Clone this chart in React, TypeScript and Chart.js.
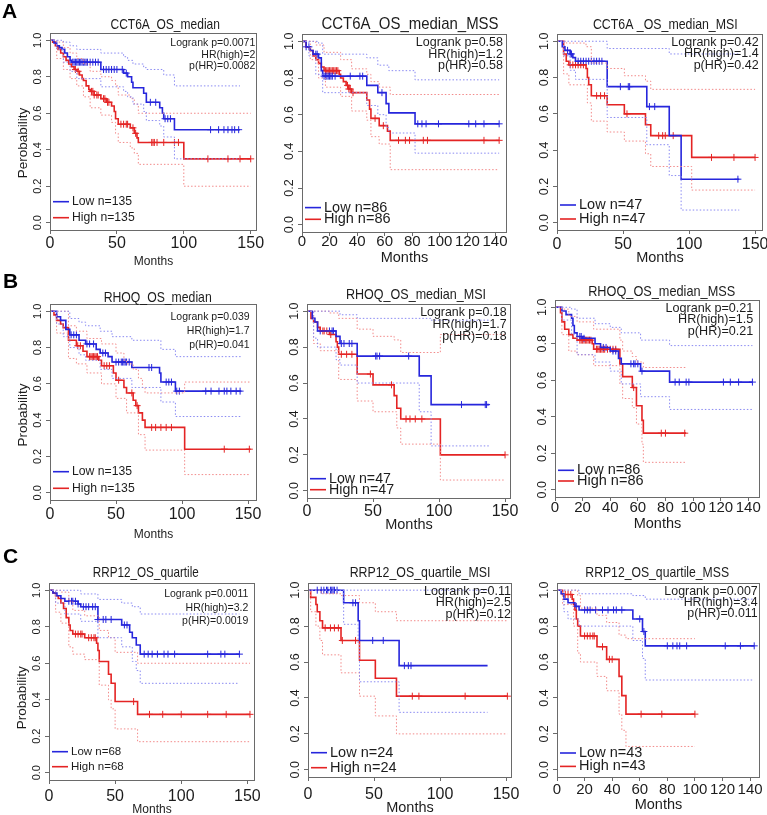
import React, { useEffect, useRef } from 'react';
import { Chart, registerables } from 'chart.js';
Chart.register(...registerables);

type P = [number, number][];

// ---------- shared ticks ----------
const X_TICKS_150 = [0, 50, 100, 150];
const X_TICKS_140 = [0, 20, 40, 60, 80, 100, 120, 140];
const Y_TICKS = [0, 0.2, 0.4, 0.6, 0.8, 1.0];

// ---------- A1: CCT6A_OS_median ----------
const A1_STATS = ['Logrank p=0.0071', 'HR(high)=2', 'p(HR)=0.0082'];
const A1_N = [135, 135];
const A1_LOW: P = [[0,1],[3,0.985],[5,0.97],[7,0.96],[9,0.95],[11,0.93],[13,0.91],[15,0.89],[16,0.88],[38,0.84],[55,0.82],[58,0.80],[61,0.77],[62,0.74],[70,0.71],[72,0.66],[82,0.63],[84,0.60],[85,0.57],[93,0.51],[142,0.51]];
const A1_LOW_CENS = [17,18,19,20,21,22,23,24,25,26,27,28,30,32,34,36,40,42,44,46,48,50,54,57,75,79,86,88,90,120,126,130,133,136,138,141];
const A1_HIGH: P = [[0,1],[2,0.99],[4,0.97],[6,0.95],[8,0.93],[10,0.91],[12,0.89],[14,0.87],[16,0.855],[18,0.84],[20,0.83],[22,0.81],[24,0.79],[25,0.78],[27,0.75],[29,0.73],[30,0.72],[33,0.70],[38,0.68],[42,0.66],[46,0.64],[48,0.61],[49,0.57],[51,0.54],[60,0.52],[63,0.49],[65,0.465],[66,0.44],[100,0.35],[150,0.35]];
const A1_HIGH_CENS = [19,21,31,32,33,35,36,40,41,43,44,53,55,57,58,62,64,76,77,78,80,85,93,96,118,133,142,150];
const A1_LOW_UP: P = [[0,1],[10,0.99],[15,0.97],[20,0.95],[38,0.93],[55,0.91],[58,0.89],[62,0.87],[70,0.85],[72,0.84],[85,0.81],[93,0.75],[142,0.75]];
const A1_LOW_LO: P = [[0,1],[5,0.95],[10,0.88],[15,0.83],[20,0.79],[38,0.745],[55,0.72],[58,0.69],[62,0.65],[70,0.61],[72,0.56],[82,0.53],[85,0.47],[93,0.35],[142,0.35]];
const A1_HIGH_UP: P = [[0,1],[5,0.99],[10,0.96],[15,0.93],[20,0.90],[25,0.87],[30,0.83],[38,0.80],[46,0.78],[49,0.75],[51,0.70],[60,0.68],[63,0.65],[66,0.60],[150,0.60]];
const A1_HIGH_LO: P = [[0,1],[5,0.90],[10,0.84],[15,0.79],[20,0.75],[25,0.69],[30,0.63],[38,0.59],[46,0.55],[49,0.49],[51,0.44],[60,0.41],[63,0.38],[66,0.32],[100,0.20],[150,0.20]];

// ---------- A2: CCT6A_OS_median_MSS ----------
const A2_STATS = ['Logrank p=0.58', 'HR(high)=1.2', 'p(HR)=0.58'];
const A2_N = [86, 86];
const A2_LOW: P = [[0,1],[3,0.97],[6,0.95],[8,0.93],[12,0.91],[14,0.84],[15,0.81],[47,0.76],[55,0.72],[61,0.66],[63,0.61],[82,0.55],[143,0.55]];
const A2_LOW_CENS = [3,5,10,11,16,17,18,19,20,21,22,24,35,42,44,58,84,87,90,99,121,126,132,143];
const A2_HIGH: P = [[0,1],[3,0.97],[6,0.95],[8,0.92],[10,0.90],[12,0.88],[14,0.86],[16,0.84],[27,0.82],[28,0.80],[30,0.78],[32,0.76],[34,0.74],[36,0.72],[47,0.68],[49,0.63],[50,0.58],[56,0.54],[62,0.51],[64,0.46],[143,0.46]];
const A2_HIGH_CENS = [17,18,19,20,21,22,23,24,25,26,33,34,35,37,53,59,70,75,78,88,91,132,143];
const A2_LOW_UP: P = [[0,1],[12,0.99],[15,0.93],[47,0.91],[55,0.87],[63,0.84],[82,0.79],[143,0.79]];
const A2_LOW_LO: P = [[0,1],[5,0.92],[10,0.82],[15,0.72],[47,0.65],[55,0.60],[61,0.53],[63,0.50],[82,0.39],[143,0.39]];
const A2_HIGH_UP: P = [[0,1],[10,0.98],[16,0.94],[28,0.90],[36,0.85],[47,0.82],[50,0.78],[56,0.75],[64,0.71],[143,0.71]];
const A2_HIGH_LO: P = [[0,1],[6,0.90],[12,0.80],[17,0.75],[28,0.70],[36,0.62],[47,0.57],[50,0.48],[56,0.44],[64,0.30],[143,0.30]];

// ---------- A3: CCT6A _OS_median_MSI ----------
const A3_STATS = ['Logrank p=0.42', 'HR(high)=1.4', 'p(HR)=0.42'];
const A3_N = [47, 47];
const A3_LOW: P = [[0,1],[4,0.97],[6,0.95],[10,0.93],[12,0.91],[14,0.89],[38,0.75],[68,0.64],[85,0.48],[94,0.24],[138,0.24]];
const A3_LOW_CENS = [8,10,11,16,18,20,22,24,26,28,30,32,34,48,54,55,70,74,137];
const A3_HIGH: P = [[0,1],[5,0.93],[7,0.89],[9,0.87],[22,0.85],[23,0.80],[24,0.76],[26,0.70],[38,0.65],[51,0.60],[67,0.54],[71,0.48],[102,0.36],[150,0.36]];
const A3_HIGH_CENS = [10,12,14,16,18,20,30,33,36,53,77,80,82,88,117,134,150];
const A3_LOW_UP: P = [[0,1],[38,0.96],[85,0.93],[138,0.93]];
const A3_LOW_LO: P = [[0,1],[5,0.92],[10,0.84],[14,0.79],[38,0.58],[68,0.43],[85,0.26],[94,0.07],[138,0.07]];
const A3_HIGH_UP: P = [[0,1],[7,0.99],[22,0.97],[26,0.88],[38,0.85],[51,0.81],[67,0.78],[71,0.735],[150,0.735]];
const A3_HIGH_LO: P = [[0,1],[5,0.82],[9,0.76],[23,0.66],[26,0.56],[38,0.50],[51,0.45],[67,0.38],[71,0.31],[102,0.18],[150,0.18]];

// ---------- B1: RHOQ_OS_median ----------
const B1_STATS = ['Logrank p=0.039', 'HR(high)=1.7', 'p(HR)=0.041'];
const B1_N = [135, 135];
const B1_LOW: P = [[0,1],[5,0.97],[8,0.95],[12,0.90],[15,0.87],[22,0.84],[27,0.82],[35,0.79],[38,0.77],[44,0.75],[47,0.72],[62,0.69],[83,0.66],[84,0.61],[95,0.56],[145,0.56]];
const B1_LOW_CENS = [16,18,20,28,30,33,40,42,50,52,54,55,56,57,58,60,75,77,88,90,92,96,98,118,122,128,132,134,137,141,144];
const B1_HIGH: P = [[0,1],[3,0.98],[5,0.95],[8,0.93],[10,0.91],[14,0.84],[20,0.81],[25,0.78],[28,0.75],[37,0.73],[39,0.70],[48,0.66],[50,0.62],[56,0.58],[58,0.55],[63,0.51],[65,0.48],[67,0.44],[70,0.40],[72,0.36],[102,0.24],[152,0.24]];
const B1_HIGH_CENS = [21,23,30,31,32,33,34,35,36,41,43,45,52,62,66,77,80,84,88,92,132,151];
const B1_LOW_UP: P = [[0,1],[10,1.0],[15,0.96],[22,0.94],[27,0.92],[38,0.89],[47,0.86],[62,0.84],[84,0.79],[95,0.75],[145,0.75]];
const B1_LOW_LO: P = [[0,1],[5,0.93],[10,0.86],[15,0.80],[22,0.76],[27,0.73],[38,0.68],[47,0.63],[62,0.58],[84,0.50],[95,0.42],[145,0.42]];
const B1_HIGH_UP: P = [[0,1],[5,1.0],[14,0.92],[20,0.89],[28,0.85],[39,0.82],[50,0.77],[56,0.73],[58,0.71],[63,0.68],[67,0.63],[70,0.58],[72,0.55],[102,0.61],[152,0.61]];
const B1_HIGH_LO: P = [[0,1],[5,0.88],[14,0.74],[20,0.71],[28,0.66],[39,0.60],[50,0.52],[58,0.44],[67,0.32],[72,0.235],[102,0.10],[152,0.10]];

// ---------- B2: RHOQ_OS_median_MSI ----------
const B2_STATS = ['Logrank p=0.18', 'HR(high)=1.7', 'p(HR)=0.18'];
const B2_N = [47, 47];
const B2_LOW: P = [[0,1],[4,0.96],[6,0.94],[8,0.89],[22,0.86],[25,0.82],[38,0.75],[85,0.64],[94,0.48],[138,0.48]];
const B2_LOW_CENS = [10,17,19,20,26,28,32,34,52,53,55,77,117,135,136];
const B2_HIGH: P = [[0,1],[3,0.96],[5,0.94],[8,0.91],[10,0.89],[17,0.87],[22,0.83],[23,0.80],[24,0.76],[38,0.65],[50,0.59],[66,0.53],[68,0.46],[71,0.40],[101,0.20],[150,0.20]];
const B2_HIGH_CENS = [12,13,15,18,26,30,34,48,64,75,78,82,87,150];
const B2_LOW_UP: P = [[0,1],[25,0.98],[38,0.96],[94,0.95],[138,0.95]];
const B2_LOW_LO: P = [[0,1],[5,0.85],[8,0.80],[22,0.73],[25,0.70],[38,0.60],[85,0.44],[94,0.25],[138,0.25]];
const B2_HIGH_UP: P = [[0,1],[8,1.0],[17,0.99],[24,0.96],[38,0.90],[50,0.86],[66,0.84],[71,0.77],[101,0.87],[150,0.87]];
const B2_HIGH_LO: P = [[0,1],[5,0.82],[10,0.78],[24,0.62],[38,0.50],[50,0.44],[68,0.35],[71,0.26],[101,0.06],[150,0.06]];

// ---------- B3: RHOQ_OS_median_MSS ----------
const B3_STATS = ['Logrank p=0.21', 'HR(high)=1.5', 'p(HR)=0.21'];
const B3_N = [86, 86];
const B3_LOW: P = [[0,1],[5,0.98],[8,0.96],[12,0.94],[13,0.90],[14,0.86],[16,0.84],[20,0.83],[29,0.80],[33,0.78],[40,0.76],[46,0.72],[48,0.69],[62,0.65],[83,0.59],[143,0.59]];
const B3_LOW_CENS = [18,19,21,35,37,42,44,55,57,58,60,63,87,90,95,97,122,127,133,143];
const B3_HIGH: P = [[0,1],[4,0.97],[5,0.92],[7,0.88],[10,0.85],[13,0.83],[16,0.82],[27,0.80],[28,0.77],[47,0.69],[49,0.62],[56,0.56],[59,0.46],[63,0.38],[64,0.31],[95,0.31]];
const B3_HIGH_CENS = [18,19,20,21,22,23,24,25,26,30,31,32,33,34,35,36,38,40,42,44,57,77,80,94];
const B3_LOW_UP: P = [[0,1],[12,0.99],[16,0.94],[29,0.91],[40,0.89],[48,0.86],[62,0.82],[83,0.79],[143,0.79]];
const B3_LOW_LO: P = [[0,1],[5,0.93],[12,0.85],[16,0.74],[29,0.70],[40,0.65],[48,0.58],[62,0.51],[83,0.44],[143,0.44]];
const B3_HIGH_UP: P = [[0,1],[5,0.99],[10,0.95],[16,0.92],[28,0.88],[47,0.82],[49,0.76],[56,0.73],[59,0.70],[64,0.67],[95,0.67]];
const B3_HIGH_LO: P = [[0,1],[5,0.85],[10,0.76],[16,0.74],[28,0.68],[47,0.58],[49,0.50],[56,0.45],[59,0.36],[63,0.25],[64,0.15],[95,0.15]];

// ---------- C1: RRP12_OS_quartile ----------
const C1_STATS = ['Logrank p=0.0011', 'HR(high)=3.2', 'p(HR)=0.0019'];
const C1_N = [68, 68];
const C1_LOW: P = [[0,1],[3,0.985],[6,0.97],[9,0.955],[12,0.94],[22,0.925],[24,0.91],[37,0.84],[55,0.81],[61,0.77],[63,0.74],[66,0.70],[69,0.65],[144,0.65]];
const C1_LOW_CENS = [15,17,18,20,22,26,28,30,33,35,37,41,43,47,57,59,72,75,78,82,87,90,95,120,130,133,144];
const C1_HIGH: P = [[0,1],[3,0.985],[5,0.97],[7,0.955],[9,0.93],[11,0.90],[13,0.85],[15,0.81],[16,0.78],[18,0.76],[27,0.74],[36,0.71],[37,0.67],[38,0.61],[45,0.54],[47,0.49],[50,0.39],[67,0.32],[152,0.32]];
const C1_HIGH_CENS = [20,22,24,25,30,32,34,35,64,76,86,100,120,134,152];
const C1_LOW_UP: P = [[0,1],[12,1.0],[24,0.98],[37,0.95],[55,0.93],[63,0.91],[69,0.87],[144,0.87]];
const C1_LOW_LO: P = [[0,1],[5,0.93],[12,0.87],[24,0.83],[37,0.74],[55,0.69],[63,0.61],[66,0.56],[69,0.49],[144,0.49]];
const C1_HIGH_UP: P = [[0,1],[9,0.99],[15,0.94],[18,0.89],[27,0.86],[38,0.78],[45,0.74],[50,0.66],[67,0.60],[152,0.60]];
const C1_HIGH_LO: P = [[0,1],[5,0.88],[9,0.82],[15,0.69],[18,0.65],[27,0.62],[38,0.48],[45,0.40],[47,0.35],[50,0.24],[67,0.17],[152,0.17]];

// ---------- C2: RRP12_OS_quartile_MSI ----------
const C2_STATS = ['Logrank p=0.11', 'HR(high)=2.5', 'p(HR)=0.12'];
const C2_N = [24, 24];
const C2_LOW: P = [[0,1],[27,0.93],[38,0.83],[39,0.72],[69,0.58],[136,0.58]];
const C2_LOW_CENS = [7,10,12,14,15,17,18,19,20,22,34,36,49,57,73,76,78];
const C2_HIGH: P = [[0,1],[2,0.96],[6,0.92],[7,0.88],[9,0.83],[11,0.79],[25,0.72],[39,0.61],[51,0.51],[67,0.41],[151,0.41]];
const C2_HIGH_CENS = [13,17,20,23,26,36,79,84,119,151];
const C2_LOW_UP: P = [[0,1],[136,1]];
const C2_LOW_LO: P = [[0,1],[27,0.81],[38,0.70],[39,0.49],[69,0.32],[136,0.32]];
const C2_HIGH_UP: P = [[0,1],[9,0.99],[11,0.98],[25,0.97],[39,0.93],[51,0.88],[67,0.83],[151,0.83]];
const C2_HIGH_LO: P = [[0,1],[2,0.88],[6,0.80],[9,0.72],[11,0.64],[25,0.54],[39,0.41],[51,0.30],[67,0.20],[151,0.20]];

// ---------- C3: RRP12_OS_quartile_MSS ----------
const C3_STATS = ['Logrank p=0.007', 'HR(high)=3.4', 'p(HR)=0.011'];
const C3_N = [43, 43];
const C3_LOW: P = [[0,1],[3,0.98],[5,0.95],[8,0.93],[13,0.91],[16,0.89],[55,0.84],[62,0.77],[64,0.69],[143,0.69]];
const C3_LOW_CENS = [14,20,22,24,28,33,37,41,43,47,60,63,80,84,87,89,94,122,133,143];
const C3_HIGH: P = [[0,1],[4,0.976],[11,0.95],[12,0.92],[13,0.89],[14,0.84],[15,0.80],[17,0.745],[29,0.685],[36,0.615],[45,0.52],[47,0.413],[50,0.31],[100,0.31]];
const C3_HIGH_CENS = [6,8,10,20,22,24,26,27,33,38,40,61,76,100];
const C3_LOW_UP: P = [[0,1],[16,0.98],[55,0.97],[64,0.95],[143,0.95]];
const C3_LOW_LO: P = [[0,1],[5,0.88],[8,0.84],[16,0.80],[55,0.72],[62,0.62],[64,0.50],[143,0.50]];
const C3_HIGH_UP: P = [[0,1],[11,1.0],[15,0.97],[17,0.90],[29,0.86],[36,0.82],[45,0.75],[50,0.73],[100,0.73]];
const C3_HIGH_LO: P = [[0,1],[4,0.92],[12,0.80],[15,0.65],[17,0.60],[29,0.52],[36,0.44],[45,0.31],[47,0.22],[50,0.13],[100,0.13]];

// ---------- styles ----------
const FAMILY = "'Liberation Sans', Arial, Helvetica, sans-serif";
const TEXT = '#1c1c1c';
const BOX = '#6a6a6a';
const BLUE = '#2626dc';
const RED = '#e42424';
const BLUE_CI = '#8a8af2';
const RED_CI = '#f28a8a';
const PADL = 50, PADT = 40, PADR = 25, PADB = 45;

interface Cfg {
  key: string; title: string; stats: string[]; n: number[];
  low: P; lowCens: number[]; high: P; highCens: number[];
  lowUp: P; lowLo: P; highUp: P; highLo: P;
  xTicks: number[]; box: number[]; xMax: number;
  titleFont: number; titleSx: number; titleDx: number; titleDy: number;
  annFont: number; annDx: number; annY0: number; annStep: number;
  legFont: number; legLow: number; legHigh: number;
  xTickFont: number; xTickDy: number; monthsFont: number; monthsDy: number;
  yTickFont: number; yTitle?: string; yTitleDy?: number;
}

const PANELS: Cfg[] = [
  { key: 'A1', title: 'CCT6A_OS_median', stats: A1_STATS, n: A1_N, low: A1_LOW, lowCens: A1_LOW_CENS, high: A1_HIGH, highCens: A1_HIGH_CENS, lowUp: A1_LOW_UP, lowLo: A1_LOW_LO, highUp: A1_HIGH_UP, highLo: A1_HIGH_LO,
    xTicks: X_TICKS_150, box: [50, 33, 257, 230], xMax: 154.7,
    titleFont: 15, titleSx: 0.8, titleDx: 11.7, titleDy: -8.3, annFont: 10.5, annDx: -1.7, annY0: 10, annStep: 11.7,
    legFont: 12.2, legLow: 28.3, legHigh: 12.3, xTickFont: 16, xTickDy: 13.3, monthsFont: 12, monthsDy: 31.7,
    yTickFont: 11, yTitle: 'Perobability', yTitleDy: 11.6 },
  { key: 'A2', title: 'CCT6A_OS_median_MSS', stats: A2_STATS, n: A2_N, low: A2_LOW, lowCens: A2_LOW_CENS, high: A2_HIGH, highCens: A2_HIGH_CENS, lowUp: A2_LOW_UP, lowLo: A2_LOW_LO, highUp: A2_HIGH_UP, highLo: A2_HIGH_LO,
    xTicks: X_TICKS_140, box: [302, 34, 507, 232], xMax: 148.7,
    titleFont: 17, titleSx: 0.88, titleDx: 5.5, titleDy: -9.3, annFont: 12.5, annDx: -4, annY0: 9, annStep: 11.2,
    legFont: 14.5, legLow: 24.4, legHigh: 12.7, xTickFont: 15, xTickDy: 10, monthsFont: 14.5, monthsDy: 26.3,
    yTickFont: 12.5 },
  { key: 'A3', title: 'CCT6A _OS_median_MSI', stats: A3_STATS, n: A3_N, low: A3_LOW, lowCens: A3_LOW_CENS, high: A3_HIGH, highCens: A3_HIGH_CENS, lowUp: A3_LOW_UP, lowLo: A3_LOW_LO, highUp: A3_HIGH_UP, highLo: A3_HIGH_LO,
    xTicks: X_TICKS_150, box: [557, 34, 763, 230], xMax: 156,
    titleFont: 15, titleSx: 0.823, titleDx: 5.3, titleDy: -9.3, annFont: 12.5, annDx: -4.4, annY0: 8.4, annStep: 11.5,
    legFont: 14.5, legLow: 25, legHigh: 11, xTickFont: 16, xTickDy: 15, monthsFont: 14.5, monthsDy: 28.3,
    yTickFont: 12.5 },
  { key: 'B1', title: 'RHOQ_OS_median', stats: B1_STATS, n: B1_N, low: B1_LOW, lowCens: B1_LOW_CENS, high: B1_HIGH, highCens: B1_HIGH_CENS, lowUp: B1_LOW_UP, lowLo: B1_LOW_LO, highUp: B1_HIGH_UP, highLo: B1_HIGH_LO,
    xTicks: X_TICKS_150, box: [50, 304, 257, 500], xMax: 156.8,
    titleFont: 15, titleSx: 0.815, titleDx: 4.2, titleDy: -6.3, annFont: 10.5, annDx: -7.4, annY0: 12.7, annStep: 14.2,
    legFont: 12.2, legLow: 28.3, legHigh: 11.7, xTickFont: 16, xTickDy: 15, monthsFont: 12, monthsDy: 35,
    yTickFont: 11, yTitle: 'Probability', yTitleDy: 13 },
  { key: 'B2', title: 'RHOQ_OS_median_MSI', stats: B2_STATS, n: B2_N, low: B2_LOW, lowCens: B2_LOW_CENS, high: B2_HIGH, highCens: B2_HIGH_CENS, lowUp: B2_LOW_UP, lowLo: B2_LOW_LO, highUp: B2_HIGH_UP, highLo: B2_HIGH_LO,
    xTicks: X_TICKS_150, box: [307, 304, 511, 498], xMax: 154.5,
    titleFont: 15, titleSx: 0.836, titleDx: 7, titleDy: -9.3, annFont: 12.4, annDx: -4.4, annY0: 9, annStep: 11.7,
    legFont: 14.2, legLow: 19.3, legHigh: 8.3, xTickFont: 16, xTickDy: 13.3, monthsFont: 14.5, monthsDy: 26.7,
    yTickFont: 12.5 },
  { key: 'B3', title: 'RHOQ_OS_median_MSS', stats: B3_STATS, n: B3_N, low: B3_LOW, lowCens: B3_LOW_CENS, high: B3_HIGH, highCens: B3_HIGH_CENS, lowUp: B3_LOW_UP, lowLo: B3_LOW_LO, highUp: B3_HIGH_UP, highLo: B3_HIGH_LO,
    xTicks: X_TICKS_140, box: [555, 300, 760, 497], xMax: 148.5,
    titleFont: 15, titleSx: 0.848, titleDx: 4.2, titleDy: -8.3, annFont: 12.6, annDx: -6.7, annY0: 8.3, annStep: 11.7,
    legFont: 14.5, legLow: 26.7, legHigh: 16, xTickFont: 15, xTickDy: 10.7, monthsFont: 14.5, monthsDy: 26.7,
    yTickFont: 12.5 },
  { key: 'C1', title: 'RRP12_OS_quartile', stats: C1_STATS, n: C1_N, low: C1_LOW, lowCens: C1_LOW_CENS, high: C1_HIGH, highCens: C1_HIGH_CENS, lowUp: C1_LOW_UP, lowLo: C1_LOW_LO, highUp: C1_HIGH_UP, highLo: C1_HIGH_LO,
    xTicks: X_TICKS_150, box: [49, 583, 255, 780], xMax: 155.8,
    titleFont: 14.5, titleSx: 0.806, titleDx: -6.2, titleDy: -10, annFont: 10.5, annDx: -6.7, annY0: 11, annStep: 13.7,
    legFont: 11.5, legLow: 28.3, legHigh: 13.3, xTickFont: 16, xTickDy: 16.7, monthsFont: 12, monthsDy: 29.3,
    yTickFont: 11, yTitle: 'Probability', yTitleDy: 16.3 },
  { key: 'C2', title: 'RRP12_OS_quartile_MSI', stats: C2_STATS, n: C2_N, low: C2_LOW, lowCens: C2_LOW_CENS, high: C2_HIGH, highCens: C2_HIGH_CENS, lowUp: C2_LOW_UP, lowLo: C2_LOW_LO, highUp: C2_HIGH_UP, highLo: C2_HIGH_LO,
    xTicks: X_TICKS_150, box: [308, 583, 512, 777], xMax: 154.5,
    titleFont: 15, titleSx: 0.823, titleDx: 10, titleDy: -10, annFont: 12.6, annDx: -1, annY0: 8.4, annStep: 11.6,
    legFont: 14.5, legLow: 24.3, legHigh: 9.3, xTickFont: 16, xTickDy: 17.7, monthsFont: 14.5, monthsDy: 31,
    yTickFont: 12.5 },
  { key: 'C3', title: 'RRP12_OS_quartile_MSS', stats: C3_STATS, n: C3_N, low: C3_LOW, lowCens: C3_LOW_CENS, high: C3_HIGH, highCens: C3_HIGH_CENS, lowUp: C3_LOW_UP, lowLo: C3_LOW_LO, highUp: C3_HIGH_UP, highLo: C3_HIGH_LO,
    xTicks: X_TICKS_140, box: [557, 583, 760, 777], xMax: 147.2,
    titleFont: 15, titleSx: 0.813, titleDx: -1.3, titleDy: -10, annFont: 12.4, annDx: -2.3, annY0: 8.4, annStep: 11.2,
    legFont: 14.5, legLow: 24, legHigh: 10.6, xTickFont: 15, xTickDy: 13.3, monthsFont: 14.5, monthsDy: 27.7,
    yTickFont: 12.5 },
];

function survAt(curve: P, t: number): number {
  let s = curve[0][1];
  for (const [tt, ss] of curve) {
    if (tt <= t) s = ss; else break;
  }
  return s;
}
const pts = (c: P) => c.map(([x, y]) => ({ x, y }));

function ciSet(c: P, color: string) {
  return { type: 'line', data: pts(c), stepped: 'before', borderColor: color, borderWidth: 1, borderDash: [1.5, 2], pointRadius: 0, fill: false };
}
function mainSet(c: P, color: string) {
  return { type: 'line', data: pts(c), stepped: 'before', borderColor: color, borderWidth: 1.6, pointRadius: 0, fill: false };
}
function censSet(c: P, times: number[], color: string) {
  return { type: 'scatter', data: times.map((t) => ({ x: t, y: survAt(c, t) })), showLine: false, pointStyle: 'cross', pointRadius: 3.5, borderColor: color, backgroundColor: color, pointBorderWidth: 1, borderWidth: 1 };
}

function Panel({ cfg }: { cfg: Cfg }) {
  const ref = useRef<HTMLCanvasElement>(null);
  const [x0, y0, x1, y1] = cfg.box;
  const W = x1 - x0 + PADL + PADR;
  const H = y1 - y0 + PADT + PADB;

  useEffect(() => {
    const canvas = ref.current;
    if (!canvas) return;
    const textPlugin = {
      id: 'kmText' + cfg.key,
      afterDraw(chart: any) {
        const ctx = chart.ctx;
        const a = chart.chartArea;
        ctx.save();
        ctx.strokeStyle = BOX;
        ctx.lineWidth = 1;
        ctx.setLineDash([]);
        ctx.strokeRect(a.left + 0.5, a.top + 0.5, a.right - a.left - 1, a.bottom - a.top);
        ctx.fillStyle = TEXT;
        // title (slightly condensed, like the source)
        ctx.save();
        ctx.font = `${cfg.titleFont}px ${FAMILY}`;
        ctx.textAlign = 'center';
        ctx.textBaseline = 'middle';
        ctx.translate((a.left + a.right) / 2 + cfg.titleDx, a.top + cfg.titleDy);
        ctx.scale(cfg.titleSx, 1);
        ctx.fillText(cfg.title, 0, 0);
        ctx.restore();
        // stats
        ctx.font = `${cfg.annFont}px ${FAMILY}`;
        ctx.textAlign = 'right';
        ctx.textBaseline = 'middle';
        cfg.stats.forEach((s, i) => ctx.fillText(s, a.right + cfg.annDx, a.top + cfg.annY0 + i * cfg.annStep));
        // legend
        const items = [
          { label: `Low n=${cfg.n[0]}`, color: BLUE, dy: cfg.legLow },
          { label: `High n=${cfg.n[1]}`, color: RED, dy: cfg.legHigh },
        ];
        ctx.font = `${cfg.legFont}px ${FAMILY}`;
        ctx.textAlign = 'left';
        items.forEach((it) => {
          const y = a.bottom - it.dy;
          ctx.strokeStyle = it.color;
          ctx.lineWidth = 1.6;
          ctx.beginPath();
          ctx.moveTo(a.left + 3, y);
          ctx.lineTo(a.left + 19, y);
          ctx.stroke();
          ctx.fillStyle = TEXT;
          ctx.fillText(it.label, a.left + 22, y);
        });
        // y title
        if (cfg.yTitle) {
          ctx.save();
          ctx.translate(a.left - 26.7, (a.top + a.bottom) / 2 + (cfg.yTitleDy || 0));
          ctx.rotate(-Math.PI / 2);
          ctx.font = `13.5px ${FAMILY}`;
          ctx.textAlign = 'center';
          ctx.textBaseline = 'middle';
          ctx.fillText(cfg.yTitle, 0, 0);
          ctx.restore();
        }
        ctx.restore();
      },
    };

    const grid = { display: true, drawOnChartArea: false, drawTicks: true, tickLength: 4, color: BOX, tickColor: BOX };
    const chart = new Chart(canvas, {
      type: 'line',
      data: {
        datasets: [
          ciSet(cfg.lowUp, BLUE_CI), ciSet(cfg.lowLo, BLUE_CI),
          ciSet(cfg.highUp, RED_CI), ciSet(cfg.highLo, RED_CI),
          mainSet(cfg.low, BLUE), mainSet(cfg.high, RED),
          censSet(cfg.low, cfg.lowCens, BLUE), censSet(cfg.high, cfg.highCens, RED),
        ] as any,
      },
      options: {
        animation: false,
        responsive: false,
        devicePixelRatio: 1,
        events: [],
        layout: { padding: { left: 0, top: PADT, right: PADR, bottom: 0 } },
        plugins: { legend: { display: false }, title: { display: false }, tooltip: { enabled: false } },
        scales: {
          x: {
            type: 'linear', min: 0, max: cfg.xMax,
            afterBuildTicks: (s: any) => { s.ticks = cfg.xTicks.map((v) => ({ value: v })); },
            afterFit: (s: any) => { s.height = PADB; },
            ticks: {
              autoSkip: false, minRotation: 0, maxRotation: 0, color: TEXT,
              font: { size: cfg.xTickFont, family: FAMILY },
              padding: cfg.xTickDy - 4 - 0.6 * cfg.xTickFont,
              callback: (v: any) => String(v),
            },
            grid, border: { display: false },
            title: {
              display: true, text: 'Months', color: TEXT,
              font: { size: cfg.monthsFont, family: FAMILY },
              padding: { top: 0, bottom: PADB - cfg.monthsDy - 0.6 * cfg.monthsFont },
            },
          },
          y: {
            type: 'linear', min: -0.04, max: 1.04,
            afterBuildTicks: (s: any) => { s.ticks = Y_TICKS.map((v) => ({ value: v })); },
            afterFit: (s: any) => { s.width = PADL; },
            ticks: {
              autoSkip: false, minRotation: 90, maxRotation: 90, crossAlign: 'center', padding: 0, color: TEXT,
              font: { size: cfg.yTickFont, family: FAMILY },
              callback: (v: any) => Number(v).toFixed(1),
            },
            grid, border: { display: false },
          },
        },
      } as any,
      plugins: [textPlugin],
    } as any);
    return () => chart.destroy();
  }, [cfg]);

  return (
    <canvas
      ref={ref}
      width={W}
      height={H}
      style={{ position: 'absolute', left: x0 - PADL, top: y0 - PADT, width: W, height: H }}
    />
  );
}

const letterStyle = (left: number, top: number): React.CSSProperties => ({
  position: 'absolute', left, top, fontFamily: FAMILY, fontWeight: 'bold', fontSize: 21, lineHeight: '21px', color: '#000',
});

export default function App() {
  return (
    <div style={{ position: 'absolute', left: 0, top: 0, width: 767, height: 815, overflow: 'hidden', background: '#fff' }}>
      {PANELS.map((p) => <Panel key={p.key} cfg={p} />)}
      <div style={letterStyle(2, 0)}>A</div>
      <div style={letterStyle(3, 270)}>B</div>
      <div style={letterStyle(3, 545)}>C</div>
    </div>
  );
}
